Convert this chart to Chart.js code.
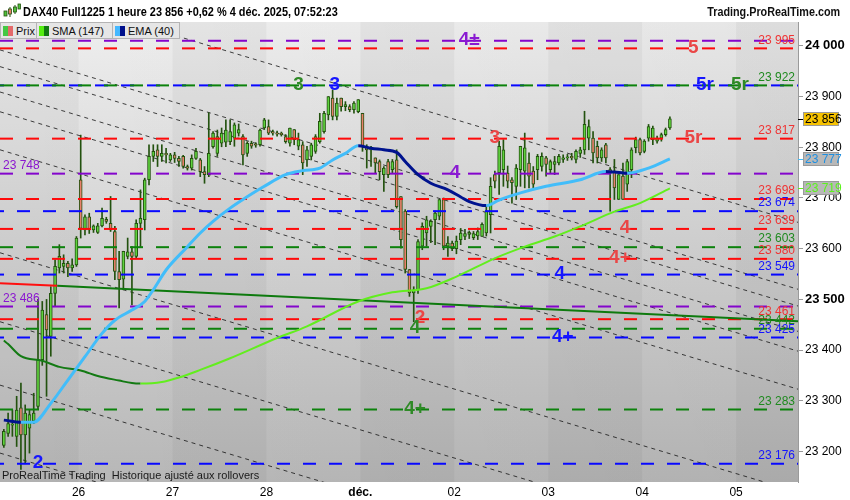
<!DOCTYPE html>
<html>
<head>
<meta charset="utf-8">
<script src="https://cdn.jsdelivr.net/npm/chart.js@4.4.1/dist/chart.umd.min.js"></script>
<style>
html, body { margin: 0; padding: 0; background: #fff; }
#wrap { position: relative; width: 850px; height: 500px; overflow: hidden; }
#chart { position: absolute; left: 0; top: 0; }
.title { position: absolute; left: 23px; top: 4px; font: bold 13px "Liberation Sans", Arial, sans-serif; color: #000; white-space: nowrap; transform: scaleX(0.84); transform-origin: left center; }
.site { position: absolute; right: 10px; top: 4px; font: bold 13px "Liberation Sans", Arial, sans-serif; color: #111; white-space: nowrap; transform: scaleX(0.83); transform-origin: right center; }
.logo { position: absolute; left: 3px; top: 3px; width: 18px; height: 16px; }
.tabs { position: absolute; left: 0; top: 22px; display: flex; }
.tab { box-sizing: border-box; height: 17px; border: 1px solid #b4b4b4; border-left: none; background: #e6e6e6; font: 11px "Liberation Sans", Arial, sans-serif; color: #111; padding: 0 0 0 2px; display: flex; align-items: center; }
.tab:first-child { border-left: 1px solid #b4b4b4; }
.ico { display: inline-flex; width: 10px; height: 10px; margin-right: 3px; }
.ico i { flex: 1; }
</style>
</head>
<body>
<div id="wrap">
  <canvas id="chart" width="850" height="500"></canvas>
  <svg class="logo" viewBox="0 0 18 16">
    <rect x="1" y="8" width="3" height="5" fill="#4fc13a" stroke="#24520f" stroke-width="0.8"/>
    <line x1="7" y1="4" x2="7" y2="14" stroke="#24520f"/>
    <rect x="5.5" y="6" width="3" height="5" fill="#e87a66" stroke="#24520f" stroke-width="0.8"/>
    <line x1="12" y1="2" x2="12" y2="11" stroke="#24520f"/>
    <rect x="10.5" y="4" width="3" height="5" fill="#4fc13a" stroke="#24520f" stroke-width="0.8"/>
    <rect x="15" y="1" width="2.5" height="5" fill="#4fc13a" stroke="#24520f" stroke-width="0.8"/>
  </svg>
  <div class="title">DAX40 Full1225 1 heure 23 856 +0,62 % 4 déc. 2025, 07:52:23</div>
  <div class="site">Trading.ProRealTime.com</div>
  <div class="tabs">
    <div class="tab" style="width:37px"><span class="ico"><i style="background:#44c844"></i><i style="background:#e46a6a"></i></span>Prix</div>
    <div class="tab" style="width:76px"><span class="ico"><i style="background:#55ee11"></i><i style="background:#117a11"></i></span>SMA (147)</div>
    <div class="tab" style="width:67px"><span class="ico"><i style="background:#45b8ff"></i><i style="background:#00108c"></i></span>EMA (40)</div>
  </div>
</div>
<script>
// bougies horaires (index 0 = 25/11, 05:00 ... 156 = 04/12, 07:00)
const opens = [
  23212,23236,23252,23230,23286,23233,23246,23260,23289,23381,
  23470,23427,23512,23562,23565,23571,23562,23568,23736,23637,
  23663,23637,23632,23645,23658,23650,23634,23555,23540,23585,
  23594,23585,23650,23657,23736,23782,23795,23782,23788,23775,
  23785,23778,23782,23762,23759,23778,23775,23752,23746,23801,
  23788,23808,23810,23811,23818,23828,23821,23788,23808,23806,
  23805,23838,23841,23831,23828,23828,23821,23808,23835,23802,
  23805,23775,23782,23792,23811,23831,23864,23897,23861,23897,
  23880,23880,23874,23870,23867,23802,23795,23779,23772,23746,
  23772,23756,23775,23703,23674,23559,23513,23519,23605,23631,
  23644,23657,23664,23697,23605,23611,23600,23618,23624,23628,
  23622,23625,23624,23631,23667,23746,23750,23756,23749,23736,
  23723,23756,23753,23769,23753,23756,23762,23779,23756,23766,
  23769,23776,23779,23782,23776,23788,23795,23818,23818,23802,
  23779,23805,23756,23753,23697,23743,23727,23756,23799,23815,
  23792,23818,23815,23812,23818,23825,23838];
const highs = [
  23244,23276,23282,23309,23335,23292,23282,23315,23500,23496,
  23500,23525,23578,23608,23588,23575,23580,23624,23824,23667,
  23670,23647,23650,23680,23662,23703,23644,23595,23595,23621,
  23604,23657,23716,23739,23805,23805,23805,23805,23798,23788,
  23790,23782,23784,23765,23785,23798,23778,23762,23868,23831,
  23834,23838,23854,23854,23848,23846,23825,23811,23812,23809,
  23836,23857,23854,23834,23832,23830,23825,23838,23835,23828,
  23811,23802,23808,23825,23867,23871,23900,23913,23897,23897,
  23890,23884,23890,23894,23867,23805,23802,23779,23775,23762,
  23776,23776,23795,23703,23677,23559,23525,23618,23651,23664,
  23657,23674,23697,23700,23624,23615,23625,23640,23638,23635,
  23634,23641,23651,23684,23740,23753,23812,23815,23763,23740,
  23766,23802,23828,23789,23762,23786,23789,23782,23775,23782,
  23786,23785,23786,23788,23795,23800,23871,23854,23831,23812,
  23799,23808,23760,23776,23746,23769,23776,23799,23820,23818,
  23815,23845,23842,23822,23828,23838,23860];
const lows = [
  23208,23230,23230,23210,23165,23177,23197,23255,23283,23370,
  23309,23388,23486,23552,23552,23545,23555,23565,23621,23627,
  23630,23632,23630,23643,23650,23634,23539,23483,23519,23580,
  23489,23581,23604,23637,23726,23772,23762,23772,23769,23772,
  23770,23762,23759,23755,23755,23776,23742,23729,23742,23798,
  23782,23801,23801,23805,23802,23822,23765,23782,23798,23800,
  23802,23835,23825,23824,23822,23822,23808,23802,23805,23795,
  23746,23762,23775,23788,23808,23828,23854,23854,23854,23871,
  23872,23870,23867,23868,23792,23759,23762,23749,23736,23713,
  23740,23750,23680,23601,23552,23506,23456,23512,23598,23605,
  23612,23608,23657,23598,23585,23596,23590,23608,23618,23620,
  23618,23618,23624,23625,23631,23720,23707,23723,23720,23690,
  23697,23723,23720,23720,23720,23736,23753,23743,23750,23746,
  23765,23770,23774,23775,23769,23780,23786,23795,23769,23769,
  23772,23769,23674,23697,23697,23697,23713,23740,23789,23785,
  23789,23812,23805,23808,23812,23822,23835];
const closes = [
  23240,23255,23254,23282,23233,23276,23273,23276,23381,23479,
  23440,23512,23565,23585,23571,23562,23568,23621,23640,23663,
  23637,23645,23645,23660,23654,23637,23555,23539,23595,23594,
  23585,23650,23660,23736,23782,23792,23782,23788,23785,23785,
  23778,23772,23762,23759,23778,23792,23752,23746,23788,23828,
  23821,23828,23834,23831,23844,23835,23785,23808,23802,23804,
  23834,23854,23828,23828,23826,23825,23811,23838,23815,23815,
  23769,23795,23805,23821,23851,23867,23900,23861,23887,23880,
  23884,23874,23887,23894,23802,23795,23798,23769,23752,23759,
  23746,23772,23683,23618,23559,23513,23519,23614,23644,23657,
  23654,23670,23697,23605,23611,23600,23615,23631,23630,23632,
  23630,23634,23648,23674,23723,23733,23802,23795,23733,23730,
  23759,23802,23799,23743,23727,23782,23782,23766,23772,23772,
  23782,23779,23781,23779,23792,23795,23845,23841,23789,23779,
  23795,23779,23749,23720,23746,23697,23772,23795,23815,23789,
  23812,23841,23838,23818,23825,23835,23856];

// moyennes mobiles (index de bougie -> valeur)
const emaIndex  = [0, 4, 7, 11, 15, 19, 23, 26, 30, 33, 35, 38, 43, 46, 49, 53, 56, 61, 66, 70, 74, 77, 80, 83, 86, 89, 92, 94, 97, 100, 104, 107, 109, 113, 116, 121, 127, 135, 141, 143, 146, 151, 156];
const emaValues = [23262, 23258, 23258, 23295, 23341, 23387, 23433, 23459, 23479, 23496, 23519, 23558, 23604, 23631, 23654, 23680, 23697, 23723, 23746, 23754, 23759, 23775, 23788, 23803, 23798, 23795, 23790, 23772, 23746, 23729, 23716, 23702, 23693, 23685, 23696, 23710, 23723, 23736, 23752, 23751, 23749, 23759, 23777];
const smaIndex  = [0, 1, 4, 9, 13, 18, 22, 27, 30, 32, 37, 41, 46, 53, 64, 71, 83, 91, 99, 106, 115, 122, 129, 135, 143, 149, 156];
const smaValues = [23419, 23412, 23388, 23379, 23367, 23360, 23349, 23340, 23335, 23334, 23337, 23346, 23361, 23384, 23424, 23447, 23496, 23514, 23522, 23545, 23581, 23604, 23624, 23644, 23673, 23690, 23719];

// ligne longue (rouge puis verte)
const longIndex  = [-0.9, 12.5, 186];
const longValues = [23532, 23527, 23457];

// canal de droites pointillées noires (valeur à gauche / à droite)
const diagLeft  = [24124, 23992, 23959, 23909, 23870, 23795, 23592, 23456, 23331, 23197];
const diagRight = [23652, 23520, 23487, 23437, 23398, 23323, 23120, 22984, 22859, 22725];

// niveaux horizontaux
const levelPrices = [24010, 23995, 23922, 23922, 23817, 23748, 23698, 23674, 23639, 23603, 23580, 23549, 23486, 23461, 23442, 23425, 23283, 23176];
const levelColors = ['purple', 'red', 'green', 'blue', 'red', 'purple', 'red', 'blue', 'red', 'green', 'red', 'blue', 'purple', 'red', 'green', 'blue', 'green', 'blue'];
const levelSides  = ['', 'right', 'right', '', 'right', 'left', 'right', 'right', 'right', 'right', 'right', 'right', 'left', 'right', 'right', 'right', 'right', 'right'];

// repères numérotés sur les niveaux
const markTexts  = ['4±', '5', '3', '3', '5r', '5r', '5r', '4', '3', '4', '4+', '4', '2', '4', '4+', '4+', '2'];
const markIndex  = [109, 161.5, 69, 77.5, 164.2, 172.4, 161.5, 105.7, 115, 145.5, 144.3, 130.2, 97.5, 96.3, 130.9, 96.3, 8];
const markPrices = [24010, 23995, 23922, 23922, 23922, 23922, 23817, 23748, 23817, 23639, 23580, 23549, 23461, 23442, 23425, 23283, 23176];
const markColors = ['purple', 'red', 'green', 'blue', 'blue', 'green', 'red', 'purple', 'red', 'red', 'red', 'blue', 'red', 'green', 'blue', 'green', 'blue'];

// axes
const dayStarts = [17.5, 39.5, 61.5, 83.5, 105.5, 127.5, 149.5, 171.5];
const dayLabels = ['26', '27', '28', 'déc.', '02', '03', '04', '05'];
const priceTicks = [23200, 23300, 23400, 23500, 23600, 23700, 23800, 23900, 24000];

const FONT = '"Liberation Sans", Arial, sans-serif';
const lineColors = { purple: '#8405cc', red: '#ff0a0a', green: '#0c820c', blue: '#0808ff' };
const textColors = { purple: '#8a16d0', red: '#f03434', green: '#1f8a1f', blue: '#1414ff' };
const markColorMap = { purple: '#8a1ad2', red: '#ea4646', green: '#2e8a26', blue: '#1616ff' };
const WICK = '#23520f';

Chart.defaults.font.family = FONT;

function fmt(v) {
    return String(Math.round(v)).replace(/\B(?=(\d{3})+(?!\d))/g, ' ');
}

const datasets = [];

// droites du canal
diagLeft.forEach((v, k) => {
    datasets.push({
        type: 'line', order: 60,
        data: [{ x: -0.9, y: v }, { x: 186, y: diagRight[k] }],
        borderColor: 'rgba(20,20,20,0.8)', borderWidth: 1, borderDash: [4, 4],
        pointRadius: 0
    });
});

// mèches et corps des bougies
datasets.push({
    type: 'bar', order: 40, grouped: false,
    data: opens.map((o, i) => ({ x: i, y: [lows[i], highs[i]] })),
    backgroundColor: WICK, barThickness: 1
});
datasets.push({
    type: 'bar', order: 39, grouped: false,
    data: opens.map((o, i) => ({ x: i, y: [o, closes[i]] })),
    backgroundColor: opens.map((o, i) => closes[i] >= o ? '#5fd23e' : '#e8806c'),
    borderColor: WICK, borderWidth: 1, borderSkipped: false, barThickness: 3
});

// niveaux horizontaux
levelPrices.forEach((p, k) => {
    datasets.push({
        type: 'line', order: 30,
        data: [{ x: -0.9, y: p }, { x: 186, y: p }],
        borderColor: lineColors[levelColors[k]], borderWidth: 2,
        borderDash: [13, 13], borderDashOffset: levelColors[k] === 'blue' ? 9 : 0,
        pointRadius: 0
    });
});

// ligne longue
datasets.push({
    type: 'line', order: 20,
    data: longIndex.map((x, i) => ({ x, y: longValues[i] })),
    borderWidth: 2, pointRadius: 0,
    segment: { borderColor: c => c.p0DataIndex === 0 ? '#ff1010' : '#0e7a0e' }
});

// SMA (147)
datasets.push({
    type: 'line', order: 10, label: 'SMA (147)',
    data: smaIndex.map((x, i) => ({ x, y: smaValues[i] })),
    borderWidth: 2, pointRadius: 0, cubicInterpolationMode: 'monotone',
    segment: { borderColor: c => c.p1.parsed.y < c.p0.parsed.y ? '#137a13' : '#62ee1e' }
});

// EMA (40)
datasets.push({
    type: 'line', order: 5, label: 'EMA (40)',
    data: emaIndex.map((x, i) => ({ x, y: emaValues[i] })),
    borderWidth: 3, pointRadius: 0, cubicInterpolationMode: 'monotone',
    segment: { borderColor: c => c.p1.parsed.y < c.p0.parsed.y ? '#00138e' : '#42bdfa' }
});

// fond dégradé + bandes journalières
const backgroundPlugin = {
    id: 'background',
    beforeDraw(chart) {
        const { ctx, chartArea: a, scales } = chart;
        ctx.save();
        ctx.fillStyle = '#ffffff';
        ctx.fillRect(0, 0, chart.width, chart.height);
        const g = ctx.createLinearGradient(0, a.top, 0, a.bottom);
        g.addColorStop(0, '#efefef');
        g.addColorStop(1, '#b8b8b8');
        ctx.fillStyle = g;
        ctx.fillRect(a.left, a.top, a.right - a.left, a.bottom - a.top);
        const h = ctx.createLinearGradient(a.left, 0, a.right, 0);
        h.addColorStop(0, 'rgba(0,0,0,0)');
        h.addColorStop(1, 'rgba(0,0,0,0.04)');
        ctx.fillStyle = h;
        ctx.fillRect(a.left, a.top, a.right - a.left, a.bottom - a.top);
        const edges = [a.left].concat(dayStarts.map(d => scales.x.getPixelForValue(d)), [a.right]);
        ctx.fillStyle = 'rgba(0,0,0,0.035)';
        for (let k = 0; k < edges.length - 1; k += 2) {
            ctx.fillRect(edges[k], a.top, edges[k + 1] - edges[k], a.bottom - a.top);
        }
        ctx.restore();
    }
};

// textes : valeurs des niveaux, repères, étiquettes de l'axe
const labelsPlugin = {
    id: 'labels',
    afterDatasetsDraw(chart) {
        const { ctx, chartArea: a, scales: { x, y } } = chart;
        ctx.save();
        ctx.beginPath();
        ctx.rect(a.left, a.top, a.right - a.left, a.bottom - a.top);
        ctx.clip();

        ctx.font = '12px ' + FONT;
        ctx.textBaseline = 'middle';
        levelPrices.forEach((p, k) => {
            if (!levelSides[k]) return;
            const py = y.getPixelForValue(p) - 8;
            ctx.fillStyle = textColors[levelColors[k]];
            if (levelSides[k] === 'right') {
                ctx.textAlign = 'right';
                ctx.fillText(fmt(p), a.right - 3, py);
            } else {
                ctx.textAlign = 'left';
                ctx.fillText(fmt(p), a.left + 3, py);
            }
        });

        ctx.font = 'bold 19px ' + FONT;
        ctx.textAlign = 'center';
        markTexts.forEach((t, k) => {
            ctx.fillStyle = markColorMap[markColors[k]];
            ctx.fillText(t, x.getPixelForValue(markIndex[k]), y.getPixelForValue(markPrices[k]) - 1);
        });

        ctx.font = '11px ' + FONT;
        ctx.textAlign = 'left';
        ctx.fillStyle = '#1a1a1a';
        ctx.fillText('ProRealTime Trading  Historique ajusté aux rollovers', a.left + 2, a.bottom - 6);
        ctx.restore();

        // étiquettes de dernière valeur sur l'axe
        const tags = [
            { v: closes[closes.length - 1], bg: '#f6c200', fg: '#000000', line: '#000000' },
            { v: emaValues[emaValues.length - 1], bg: '#b8b8b8', fg: '#1f8fe0', line: '#42bdfa' },
            { v: smaValues[smaValues.length - 1], bg: '#b8b8b8', fg: '#5cf21c', line: '#62ee1e' }
        ];
        ctx.save();
        ctx.font = '12px ' + FONT;
        ctx.textBaseline = 'middle';
        ctx.textAlign = 'left';
        tags.forEach(t => {
            const py = Math.round(y.getPixelForValue(t.v));
            ctx.fillStyle = t.bg;
            ctx.fillRect(a.right + 5, py - 7, 36, 14);
            ctx.strokeStyle = '#9a9a9a';
            ctx.lineWidth = 1;
            ctx.strokeRect(a.right + 5.5, py - 6.5, 35, 13);
            ctx.strokeStyle = t.line;
            ctx.beginPath();
            ctx.moveTo(a.right, py + 0.5);
            ctx.lineTo(a.right + 5, py + 0.5);
            ctx.stroke();
            ctx.fillStyle = t.fg;
            ctx.fillText(fmt(t.v), a.right + 7, py + 1);
        });
        ctx.restore();
    }
};

new Chart(document.getElementById('chart'), {
    type: 'bar',
    data: { datasets },
    options: {
        responsive: false,
        animation: false,
        layout: { padding: { top: 22, left: 0, right: 0, bottom: 0 } },
        plugins: { legend: { display: false }, tooltip: { enabled: false } },
        scales: {
            x: {
                type: 'linear', min: -0.9, max: 186, offset: false,
                grid: { display: false, drawTicks: false, tickLength: 0 }, border: { display: false },
                afterBuildTicks: s => { s.ticks = dayStarts.map(v => ({ value: v })); },
                afterFit: s => { s.height = 18; },
                ticks: {
                    autoSkip: false, maxRotation: 0, padding: 3, color: '#000',
                    callback: (v, i) => dayLabels[i],
                    font: c => ({ size: 12, weight: dayLabels[c.index] === 'déc.' ? 'bold' : 'normal' })
                }
            },
            y: {
                position: 'right', min: 23140, max: 24047,
                afterBuildTicks: s => { s.ticks = priceTicks.map(v => ({ value: v })); },
                afterFit: s => { s.width = 52; },
                grid: { drawOnChartArea: false, drawTicks: true, tickLength: 5, color: '#9a9a9a' },
                border: { display: true, color: '#9a9a9a' },
                ticks: {
                    padding: 2, color: '#000',
                    callback: v => fmt(v),
                    font: c => (c.tick && c.tick.value % 500 === 0) ? { size: 13, weight: 'bold' } : { size: 12 }
                }
            }
        }
    },
    plugins: [backgroundPlugin, labelsPlugin]
});
</script>
</body>
</html>
